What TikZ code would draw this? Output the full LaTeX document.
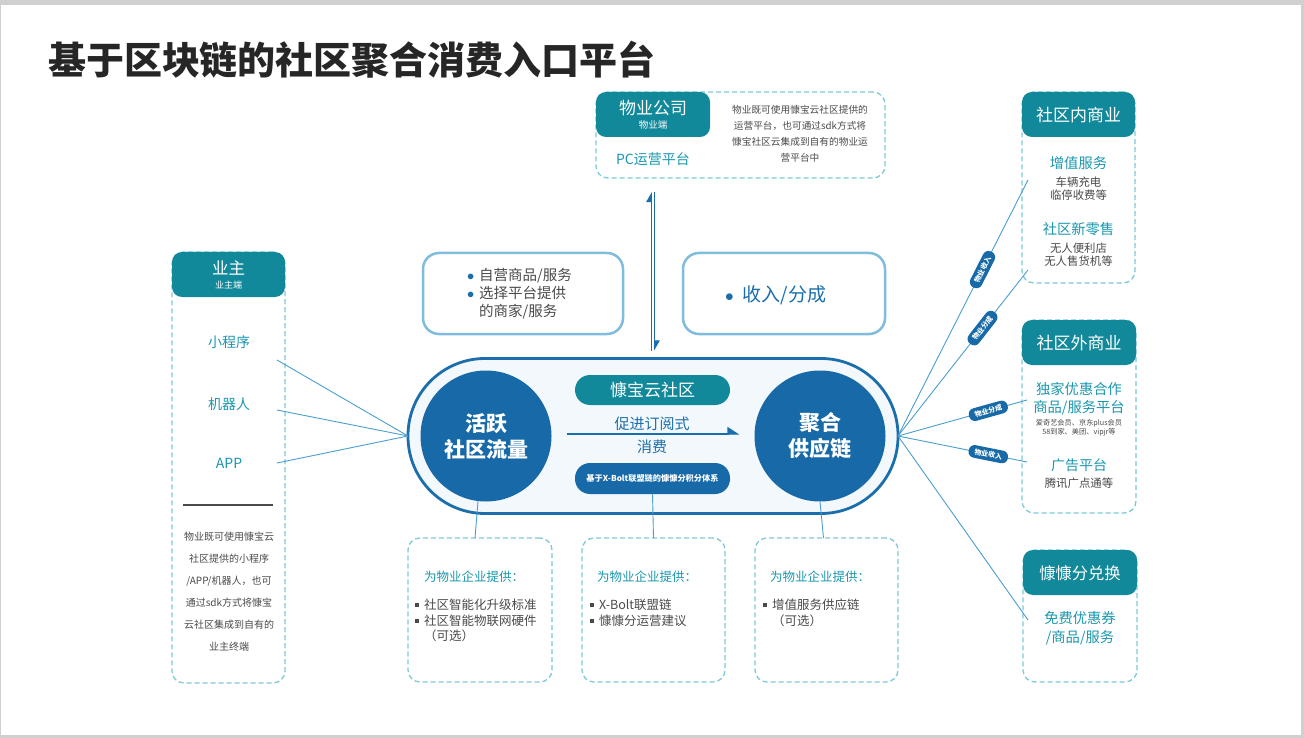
\documentclass[tikz,border=0pt]{standalone}
\usepackage{fontspec}
\setmainfont{Noto Sans CJK SC}
\usetikzlibrary{arrows.meta}
\definecolor{teal1}{HTML}{12899A}
\definecolor{dashc}{HTML}{7FCAD9}
\definecolor{tealtxt}{HTML}{1B97AD}
\definecolor{dblue}{HTML}{1769A8}
\definecolor{capb}{HTML}{1B6EAC}
\definecolor{capf}{HTML}{F3F8FC}
\definecolor{lbbox}{HTML}{80BCDD}
\definecolor{gtxt}{HTML}{4A4A4A}
\definecolor{linkc}{HTML}{4A9ED0}
\definecolor{slidebg}{HTML}{D0D0D0}
\definecolor{titlec}{HTML}{262626}
\newcommand{\fsz}[2]{\fontsize{#1}{#2}\selectfont}
\newcommand{\sqb}{\textcolor{gtxt}{\rule[2.5pt]{4pt}{4pt}}}
\newcommand{\bdot}{\textcolor{capb}{$\bullet$}}
\begin{document}
\begin{tikzpicture}[x=1pt,y=-1pt,
  every node/.style={inner sep=0pt,outer sep=0pt},
  dbox/.style={draw=dashc,line width=1.3pt,dash pattern=on 5pt off 3pt,rounded corners=12pt,fill=white,anchor=north west},
  hdr/.style={fill=teal1,rounded corners=10pt,anchor=north west},
  lbox/.style={draw=lbbox,line width=2.5pt,rounded corners=16pt,fill=white,anchor=north west},
  link/.style={draw=linkc,line width=0.9pt},
  pill/.style={fill=dblue,rounded corners=6pt,text=white,font=\fsz{7}{8}\bfseries,inner xsep=6pt,inner ysep=3pt,sloped},
  varr/.style={draw=capb,line width=1.3pt,-{Stealth[harpoon,length=9pt,width=10pt,inset=0pt]}},
  wt/.style={text=white},
  tt/.style={text=tealtxt},
  gt/.style={text=gtxt}
]
% slide
\fill[slidebg] (0,0) rectangle (1304,738);
\fill[white] (1,5) rectangle (1301,735);

% title
\node[anchor=west,font=\fsz{38}{42}\bfseries,text=titlec] (title) at (48,60) {基于区块链的社区聚合消费入口平台};

% top box
\node[dbox,minimum width=289,minimum height=86] (tb) at (596,92) {};
\node[hdr,minimum width=114,minimum height=45] (tbh) at (596,92) {};
\node[wt,font=\fsz{17}{20}] (tbt1) at (653,108) {物业公司};
\node[wt,font=\fsz{9.5}{11}] (tbt2) at (653,125) {物业端};
\node[tt,font=\fsz{14}{16}] (tbpc) at (653,159) {PC运营平台};
\node[gt,font=\fsz{9.7}{16},align=center] (tbdesc) at (800,134) {物业既可使用慷宝云社区提供的\\运营平台，也可通过sdk方式将\\慷宝社区云集成到自有的物业运\\营平台中};

% light boxes
\node[lbox,minimum width=200,minimum height=81] (bl) at (423,253) {};
\node[gt,font=\fsz{14.5}{17.5},anchor=west] (blt) at (467,295) {\begin{tabular}{@{}l@{\hspace{5pt}}l@{}}\bdot&自营商品/服务\\\bdot&选择平台提供\\&的商家/服务\end{tabular}};
\node[lbox,minimum width=202,minimum height=81] (br) at (683,253) {};
\node[text=capb,font=\fsz{19}{22},anchor=west] (brt) at (725,295) {$\bullet$\hspace{9pt}收入/分成};

% capsule
\node[draw=capb,fill=capf,line width=2.8pt,rounded corners=77pt,minimum width=490,minimum height=155] (cap) at (653,436) {};
\node[circle,fill=dblue,minimum size=131,wt,font=\fsz{21}{26}\bfseries,align=center] (c1) at (486,436) {活跃\\社区流量};
\node[circle,fill=dblue,minimum size=131,wt,font=\fsz{21}{26}\bfseries,align=center] (c2) at (820,436) {聚合\\供应链};
\node[fill=teal1,rounded corners=15pt,minimum width=155,minimum height=30,wt,font=\fsz{17}{20}] (p1) at (652.5,390) {慷宝云社区};
\node[fill=dblue,rounded corners=15pt,minimum width=155,minimum height=31,wt,font=\fsz{8.2}{10}\bfseries] (p2) at (652.5,478.5) {基于X-Bolt联盟链的慷慷分积分体系};
\draw[capb,line width=1.3pt,shorten <=15pt,shorten >=15pt,-{Stealth[harpoon,length=11pt,width=14pt,inset=0pt]}] ([yshift=2pt]c1.east) -- ([yshift=2pt]c2.west);
\node[text=capb,font=\fsz{15}{18}] (mt1) at (652,424) {促进订阅式};
\node[text=capb,font=\fsz{15}{18}] (mt2) at (652,447) {消费};

% vertical double arrow
\coordinate (vb) at ([yshift=8pt]cap.north);
\coordinate (vt) at ([yshift=-14pt]cap.north |- tb.south);
\draw[varr] ([xshift=-1.8pt]vb) -- ([xshift=-1.8pt]vt);
\draw[varr] ([xshift=1.8pt]vt) -- ([xshift=1.8pt]vb);

% bottom boxes
\node[dbox,minimum width=144,minimum height=144] (b1) at (408,538) {};
\node[dbox,minimum width=143,minimum height=144] (b2) at (582,538) {};
\node[dbox,minimum width=143,minimum height=144] (b3) at (755,538) {};
\node[tt,font=\fsz{12.5}{15},anchor=west] (b1t) at (424,577) {为物业企业提供：};
\node[tt,font=\fsz{12.5}{15},anchor=west] (b2t) at (597,577) {为物业企业提供：};
\node[tt,font=\fsz{12.5}{15},anchor=west] (b3t) at (770,577) {为物业企业提供：};
\node[gt,font=\fsz{12.5}{15.5},anchor=west] (b1i) at (415,622) {\begin{tabular}{@{}l@{\hspace{5pt}}l@{}}\sqb&社区智能化升级标准\\\sqb&社区智能物联网硬件\\&（可选）\end{tabular}};
\node[gt,font=\fsz{12.5}{15.5},anchor=west] (b2i) at (590,614.5) {\begin{tabular}{@{}l@{\hspace{5pt}}l@{}}\sqb&X-Bolt联盟链\\\sqb&慷慷分运营建议\end{tabular}};
\node[gt,font=\fsz{12.5}{15.5},anchor=west] (b3i) at (763,614.5) {\begin{tabular}{@{}l@{\hspace{5pt}}l@{}}\sqb&增值服务供应链\\&（可选）\end{tabular}};
\draw[link] (c1.263) -- ([xshift=-5pt]b1.north);
\draw[link] (p2.south) -- (b2.north);
\draw[link] (c2.south) -- ([xshift=-3pt]b3.north);

% left box
\node[dbox,minimum width=113,minimum height=431] (lb) at (172,252) {};
\node[hdr,minimum width=113,minimum height=45] (lbh) at (172,252) {};
\node[wt,font=\fsz{16.5}{19}] (lbt1) at (228.5,268) {业主};
\node[wt,font=\fsz{9}{11}] (lbt2) at (228.5,285) {业主端};
\node[tt,font=\fsz{14}{16}] (i1) at (229,342) {小程序};
\node[tt,font=\fsz{14}{16}] (i2) at (229,404) {机器人};
\node[tt,font=\fsz{14}{16}] (i3) at (229,463) {APP};
\draw[draw=gtxt,line width=2pt] (183,505) -- (273,505);
\node[gt,font=\fsz{10}{22},align=center] (lbdesc) at (229,592) {物业既可使用慷宝云\\社区提供的小程序\\/APP/机器人，也可\\通过sdk方式将慷宝\\云社区集成到自有的\\业主终端};
\coordinate (l1) at (277,360);
\coordinate (l2) at (277,410);
\coordinate (l3) at (277,463);
\draw[link] (l1) -- (cap.west);
\draw[link] (l2) -- (cap.west);
\draw[link] (l3) -- (cap.west);

% right boxes
\node[dbox,minimum width=113,minimum height=191] (rb1) at (1022,92) {};
\node[hdr,minimum width=113,minimum height=45] (rb1h) at (1022,92) {};
\node[wt,font=\fsz{17}{20}] (rb1t) at (1078.5,115) {社区内商业};
\node[tt,font=\fsz{14.3}{17}] (rb1a) at (1078.5,163) {增值服务};
\node[gt,font=\fsz{11.4}{13.4},align=center] (rb1b) at (1078.5,188.5) {车辆充电\\临停收费等};
\node[tt,font=\fsz{14.3}{17}] (rb1c) at (1078.5,229) {社区新零售};
\node[gt,font=\fsz{11.4}{13.4},align=center] (rb1d) at (1078.5,254.5) {无人便利店\\无人售货机等};

\node[dbox,minimum width=114,minimum height=193] (rb2) at (1022,320) {};
\node[hdr,minimum width=114,minimum height=45] (rb2h) at (1022,320) {};
\node[wt,font=\fsz{17}{20}] (rb2t) at (1079,343) {社区外商业};
\node[tt,font=\fsz{14.3}{18},align=center] (rb2a) at (1079,399) {独家优惠合作\\商品/服务平台};
\node[gt,font=\fsz{7.2}{9},align=center] (rb2b) at (1079,427.5) {爱奇艺会员、京东plus会员\\58到家、美团、vipjr等};
\node[tt,font=\fsz{14}{17}] (rb2c) at (1079,465) {广告平台};
\node[gt,font=\fsz{11.4}{13.4}] (rb2d) at (1079,483) {腾讯广点通等};

\node[dbox,minimum width=114,minimum height=132] (rb3) at (1023,550) {};
\node[hdr,minimum width=114,minimum height=45] (rb3h) at (1023,550) {};
\node[wt,font=\fsz{16.3}{19}] (rb3t) at (1080,573) {慷慷分兑换};
\node[tt,font=\fsz{14.3}{19},align=center] (rb3a) at (1080,628.5) {免费优惠券\\/商品/服务};

% right fan
\coordinate (r1) at (1028,180);
\coordinate (r2) at (1028,270);
\coordinate (r3) at (1027,400);
\coordinate (r4) at (1027,462);
\coordinate (r5) at (1028,620);
\draw[link] (cap.east) -- node[pill,pos=0.65] (q1) {物业收入} (r1);
\draw[link] (cap.east) -- node[pill,pos=0.65] (q2) {物业分成} (r2);
\draw[link] (cap.east) -- node[pill,pos=0.70] (q3) {物业分成} (r3);
\draw[link] (cap.east) -- node[pill,pos=0.70] (q4) {物业收入} (r4);
\draw[link] (cap.east) -- (r5);
\end{tikzpicture}
\end{document}
